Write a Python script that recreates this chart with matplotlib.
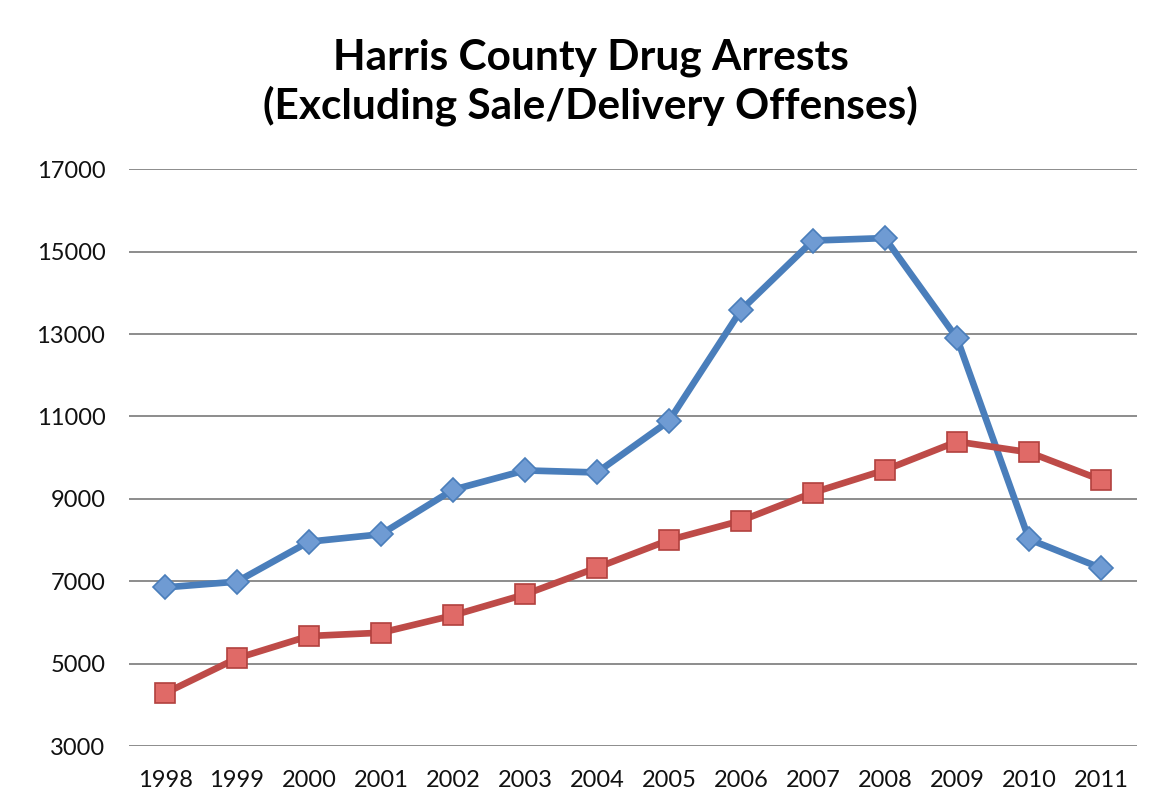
import matplotlib

matplotlib.use("Agg")
import matplotlib.pyplot as plt

years = ["1998", "1999", "2000", "2001", "2002", "2003", "2004",
         "2005", "2006", "2007", "2008", "2009", "2010", "2011"]
possession_arrests = [6850, 6990, 7960, 8140, 9220, 9690, 9640,
                      10890, 13580, 15270, 15330, 12900, 8020, 7320]
other_arrests = [4280, 5130, 5670, 5750, 6170, 6680, 7330,
                 8000, 8470, 9150, 9700, 10390, 10130, 9460]
y_ticks = [3000, 5000, 7000, 9000, 11000, 13000, 15000, 17000]

plt.rcParams["font.family"] = ["Lato", "DejaVu Sans"]

fig = plt.figure(figsize=(11.67, 8.10), dpi=100)
ax = fig.add_axes([0.1105, 0.079, 0.8638, 0.712])

x = list(range(len(years)))
ax.plot(x, possession_arrests, color="#4A7EBB", linewidth=4.8,
        marker="D", markersize=12, markerfacecolor="#6F9BD3",
        markeredgecolor="#4A7EBB", markeredgewidth=1.2, zorder=3)
ax.plot(x, other_arrests, color="#BE4B48", linewidth=4.8,
        marker="s", markersize=14.5, markerfacecolor="#E06A67",
        markeredgecolor="#B2413E", markeredgewidth=1.2, zorder=3)

ax.set_xlim(-0.5, len(years) - 0.5)
ax.set_ylim(3000, 17000)
ax.set_yticks(y_ticks)
ax.set_yticklabels([str(v) for v in y_ticks])
ax.set_xticks(x)
ax.set_xticklabels(years)
ax.tick_params(axis="both", length=0, labelsize=17, colors="#111111")
ax.tick_params(axis="y", pad=17)
ax.tick_params(axis="x", pad=17)

ax.grid(axis="y", color="#8C8C8C", linewidth=1.4)
ax.set_axisbelow(True)
for side in ax.spines.values():
    side.set_visible(False)

fig.text(0.506, 0.929, "Harris County Drug Arrests", ha="center", va="center",
         fontsize=30.5, fontweight="bold", color="#000000")
fig.text(0.506, 0.870, "(Excluding Sale/Delivery Offenses)", ha="center",
         va="center", fontsize=30.5, fontweight="bold", color="#000000")

fig.savefig("out.png", dpi=100, facecolor="white")
